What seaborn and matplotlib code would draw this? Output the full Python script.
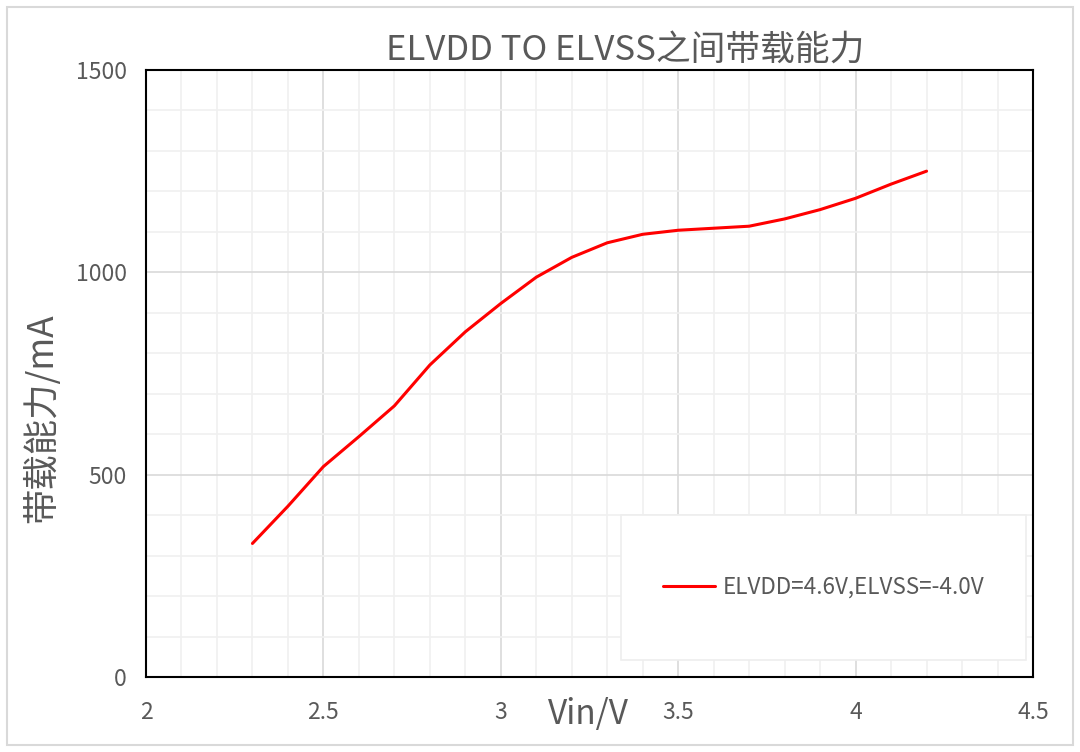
import matplotlib
matplotlib.use("Agg")
import matplotlib.pyplot as plt
from matplotlib.patches import Rectangle
from matplotlib.ticker import MultipleLocator, FuncFormatter
import seaborn as sns

# Vin (V) vs load capability (mA)
vin = [2.3, 2.4, 2.5, 2.6, 2.7, 2.8, 2.9, 3.0, 3.1, 3.2,
       3.3, 3.4, 3.5, 3.6, 3.7, 3.8, 3.9, 4.0, 4.1, 4.2]
current = [330, 422, 520, 594, 670, 771, 853, 923, 988, 1037,
           1073, 1094, 1104, 1109, 1114, 1132, 1155, 1183, 1218, 1250]
series_label = "ELVDD=4.6V,ELVSS=-4.0V"
title = "ELVDD TO ELVSS之间带载能力"
x_label = "Vin/V"
y_label = "带载能力/mA"

sns.set_theme(style="white")
plt.rcParams['font.family'] = ['Noto Sans CJK SC', 'DejaVu Sans']
text_color = "#595959"

fig = plt.figure(figsize=(10.8, 7.52), dpi=100)
ax = fig.add_axes([146 / 1080, 75 / 752, 887 / 1080, 607 / 752])

sns.lineplot(x=vin, y=current, color="#ff0000", linewidth=2.2,
             label=series_label, ax=ax, zorder=5,
             solid_joinstyle="round", solid_capstyle="round")

ax.set_xlim(2, 4.5)
ax.set_ylim(0, 1500)
ax.xaxis.set_major_locator(MultipleLocator(0.5))
ax.xaxis.set_minor_locator(MultipleLocator(0.1))
ax.yaxis.set_major_locator(MultipleLocator(500))
ax.yaxis.set_minor_locator(MultipleLocator(100))
ax.xaxis.set_major_formatter(FuncFormatter(lambda v, p: f"{v:g}"))

ax.grid(which="major", color="#d9d9d9", linewidth=1.2)
ax.grid(which="minor", color="#f0f0f0", linewidth=1.2)
ax.set_axisbelow(True)
ax.tick_params(which="both", length=0)
ax.tick_params(axis="x", pad=17, labelsize=16.5, labelcolor=text_color)
ax.tick_params(axis="y", pad=14, labelsize=16.5, labelcolor=text_color)
for s in ax.spines.values():
    s.set_color("black")
    s.set_linewidth(1.5)
    s.set_visible(True)

ax.set_xlabel(x_label, fontsize=24, color=text_color)
ax.xaxis.set_label_coords(0.499, -0.033)
ax.set_ylabel(y_label, fontsize=25.5, color=text_color)
ax.yaxis.set_label_coords(-0.097, 0.427)

fig.text(625 / 1080, 1 - 51 / 752, title, ha="center", va="center",
         fontsize=25, color=text_color)

# legend box
x0, y0 = (621 - 146) / 887, (677 - 660) / 607
w, h = (1026 - 621) / 887, (660 - 515) / 607
ax.add_patch(Rectangle((x0, y0), w, h, transform=ax.transAxes,
                       facecolor="white", edgecolor="#eeeeee", linewidth=1.2, zorder=3))
leg = ax.legend(loc="center", bbox_to_anchor=(x0, y0, w, h), frameon=False,
                fontsize=16.2, handlelength=2.3, handletextpad=0.35)
for t in leg.get_texts():
    t.set_color(text_color)
leg.set_zorder(6)

fig.patches.append(Rectangle((7 / 1080, 7 / 752), 1066 / 1080, 738 / 752,
                             transform=fig.transFigure, facecolor="none",
                             edgecolor="#d9d9d9", linewidth=1.5))

fig.savefig("out.png", dpi=100)
